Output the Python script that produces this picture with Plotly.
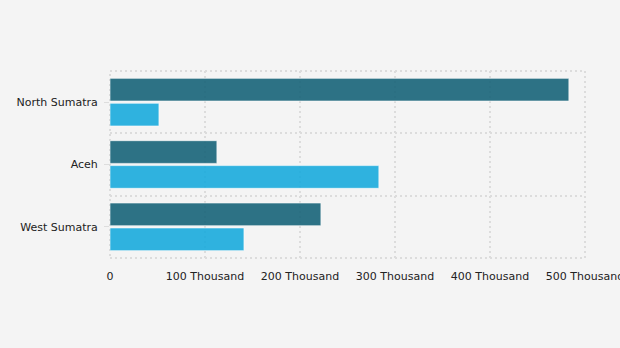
import plotly.graph_objects as go

categories = ["North Sumatra", "Aceh", "West Sumatra"]
series_a = [483000, 112500, 222000]   # dark teal
series_b = [51500, 283000, 141000]    # light blue
x_tickvals = [0, 100000, 200000, 300000, 400000, 500000]
x_ticktext = ["0", "100 Thousand", "200 Thousand", "300 Thousand", "400 Thousand", "500 Thousand"]

ypos = list(range(len(categories)))

fig = go.Figure()
fig.add_trace(go.Bar(
    y=ypos, x=series_a, orientation="h", name="Series A",
    marker=dict(color="rgb(24,100,121)", opacity=0.9,
                line=dict(color="rgba(255,255,255,0.6)", width=1)),
))
fig.add_trace(go.Bar(
    y=ypos, x=series_b, orientation="h", name="Series B",
    marker=dict(color="rgb(26,171,221)", opacity=0.9,
                line=dict(color="rgba(255,255,255,0.6)", width=1)),
))

grid_col = "#dcdcdc"
# dotted frame around the plot area (edge gridlines)
fig.add_shape(type="rect", xref="paper", yref="paper", x0=0, x1=1, y0=0, y1=1,
              line=dict(color=grid_col, width=2, dash="2px,3px"), layer="below")

fig.update_layout(
    width=620, height=348,
    paper_bgcolor="#f4f4f4", plot_bgcolor="#f4f4f4",
    margin=dict(l=110, r=35, t=71, b=90),
    barmode="group", bargap=0.2, bargroupgap=0.09,
    showlegend=False,
    font=dict(family="DejaVu Sans", size=11, color="#222222"),
    xaxis=dict(
        range=[0, 500000], tickvals=x_tickvals, ticktext=x_ticktext,
        showgrid=True, gridcolor=grid_col, griddash="2px,3px", gridwidth=2,
        zeroline=False, showline=False, ticks="",
        ticklabelstandoff=10, ticklabeloverflow="allow",
        automargin=False,
    ),
    yaxis=dict(
        range=[2.5, -0.5], tickvals=ypos, ticktext=categories,
        showgrid=False, zeroline=False, showline=False,
        ticks="outside", ticklen=5, tickcolor="#dddddd",
        ticklabelstandoff=4,
        minor=dict(tickvals=[-0.5, 0.5, 1.5, 2.5], showgrid=True,
                   gridcolor=grid_col, griddash="2px,3px", gridwidth=2,
                   ticks=""),
        automargin=False,
    ),
)

fig.write_html("out.html")
